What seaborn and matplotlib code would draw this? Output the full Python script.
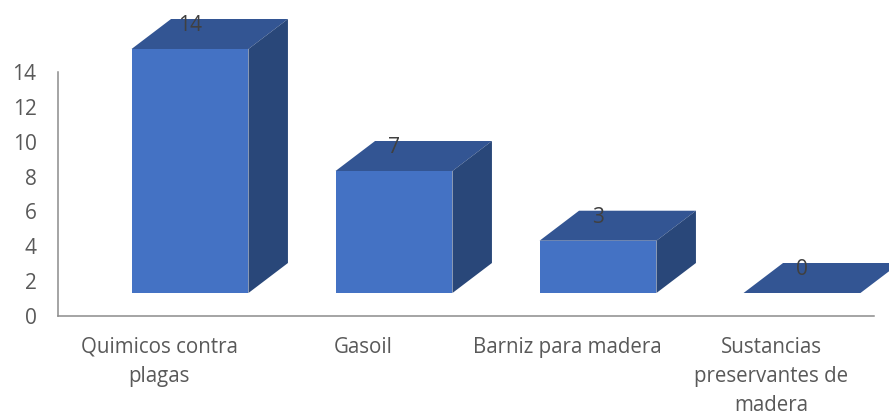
import pandas as pd
import matplotlib
matplotlib.use("Agg")
import matplotlib.pyplot as plt
import matplotlib.transforms as mtransforms
from matplotlib.patches import Polygon
import seaborn as sns

categories = ["Quimicos contra\nplagas", "Gasoil", "Barniz para madera", "Sustancias\npreservantes de\nmadera"]
values = [14, 7, 3, 0]
y_ticks = [0, 2, 4, 6, 8, 10, 12, 14]

FRONT = "#4472C4"
TOP = "#335593"
SIDE = "#294779"
AXIS = "#8C8C8C"
TEXT = "#595959"
LABEL = "#404040"

W, H = 889, 416

sns.set_theme(style="white")
plt.rcParams["font.family"] = ["Open Sans", "DejaVu Sans"]

df = pd.DataFrame({"cat": categories, "val": values})

fig = plt.figure(figsize=(W / 100, H / 100), dpi=100)
ax = fig.add_axes([58 / W, 1 - 316 / H, (874 - 58) / W, (316 - 72) / H])

sns.barplot(data=df, x="cat", y="val", color=FRONT, saturation=1, width=0.573, ax=ax, zorder=3,
            linewidth=0, edgecolor="none")
ax.set_ylim(0, 14)
ax.set_xlim(-0.5, 3.5)
ax.set_yticks(y_ticks)
ax.set_xlabel("")
ax.set_ylabel("")
ax.tick_params(axis="y", labelsize=15, labelcolor=TEXT, length=0, pad=15.5)
ax.tick_params(axis="x", labelsize=14.8, labelcolor=TEXT, length=0, pad=15)
label_shift = mtransforms.ScaledTranslation(-1 / 100, 0, fig.dpi_scale_trans)
for lab in ax.get_xticklabels():
    lab.set_linespacing(1.5)
    lab.set_transform(lab.get_transform() + label_shift)

sns.despine(ax=ax)
for side in ["left", "bottom"]:
    ax.spines[side].set_color(AXIS)
    ax.spines[side].set_linewidth(1.1)

# fake 3d: front faces pushed up and right off the axis, then top and side faces
front_tr = mtransforms.offset_copy(ax.transData, fig=fig, x=30, y=23, units="dots")
fig.canvas.draw()
dx, dy = 39.5, 30

for bar, val in zip(ax.patches, values):
    bar.set_transform(front_tr)
    bar.set_clip_on(False)
    x0, x1 = bar.get_x(), bar.get_x() + bar.get_width()
    p0 = front_tr.transform((x0, val))
    p1 = front_tr.transform((x1, val))
    base = front_tr.transform((x1, 0))
    top = [p0, p1, p1 + (dx, dy), p0 + (dx, dy)]
    side = [base, p1, p1 + (dx, dy), base + (dx, dy)]
    ax.add_patch(Polygon(top, closed=True, transform=None, fc=TOP, ec="none", clip_on=False, zorder=2))
    if val > 0:
        ax.add_patch(Polygon(side, closed=True, transform=None, fc=SIDE, ec="none", clip_on=False, zorder=2))
    ax.text((p0[0] + p1[0]) / 2, p0[1] + 23.5, str(val), transform=None, ha="center", va="center",
            fontsize=15, color=LABEL, zorder=5, clip_on=False)

fig.savefig("out.png", dpi=100, facecolor="white")
